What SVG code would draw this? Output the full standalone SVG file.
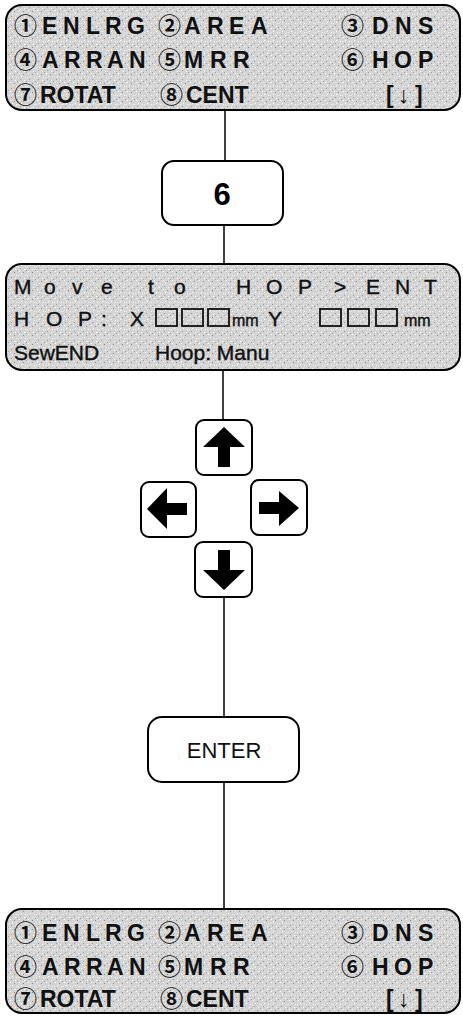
<svg xmlns="http://www.w3.org/2000/svg" width="463" height="1016" viewBox="0 0 463 1016">
<defs>
<pattern id="grain" width="9" height="9" patternUnits="userSpaceOnUse">
<rect width="9" height="9" fill="#d4d4d4"/>
<rect x="1" y="1" width="1" height="1" fill="#ffffff"/>
<rect x="5" y="2" width="1" height="1" fill="#8a8a8a"/>
<rect x="3" y="4" width="1" height="1" fill="#ffffff"/>
<rect x="7" y="5" width="1" height="1" fill="#f4f4f4"/>
<rect x="2" y="7" width="1" height="1" fill="#9a9a9a"/>
<rect x="6" y="8" width="1" height="1" fill="#ffffff"/>
<rect x="8" y="0" width="1" height="1" fill="#a5a5a5"/>
<rect x="0" y="5" width="1" height="1" fill="#ededed"/>
</pattern>
<style>
.lcd{fill:url(#grain);stroke:#000;stroke-width:2}
.key{fill:#fff;stroke:#000;stroke-width:2}
.conn{stroke:#000;stroke-width:1.5;fill:none}
.t{font-family:"Liberation Sans","Noto Sans CJK JP",sans-serif;font-weight:bold;font-size:23px;fill:#111}
.c{font-family:"Noto Sans CJK JP","DejaVu Sans",sans-serif;font-weight:bold;font-size:23px;fill:#111}
.m{font-family:"Liberation Sans","Noto Sans CJK JP",sans-serif;font-weight:normal;font-size:21px;fill:#111;stroke:#111;stroke-width:0.4}
.sq{fill:none;stroke:#111;stroke-width:1.8}
.arw{fill:#000}
</style>
</defs>

<g id="connectors">
<line class="conn" x1="225" y1="110" x2="225" y2="161"/>
<line class="conn" x1="224" y1="225" x2="224" y2="264"/>
<line class="conn" x1="223" y1="370" x2="223" y2="420"/>
<line class="conn" x1="224" y1="597" x2="224" y2="717"/>
<line class="conn" x1="224" y1="782" x2="224" y2="909"/>
</g>

<g id="menu-top">
<rect class="lcd" x="6" y="5" width="454" height="105" rx="16"/>
<text class="c" x="14" y="34">①</text>
<text class="t" x="42 63 86 105 127" y="34">ENLRG</text>
<text class="c" x="158" y="34">②</text>
<text class="t" x="184 207 229 251" y="34">AREA</text>
<text class="c" x="341" y="34">③</text>
<text class="t" x="372 395 418" y="34">DNS</text>
<text class="c" x="14" y="68">④</text>
<text class="t" x="42 64 86 107 129" y="68">ARRAN</text>
<text class="c" x="158" y="68">⑤</text>
<text class="t" x="184 210 233" y="68">MRR</text>
<text class="c" x="341" y="68">⑥</text>
<text class="t" x="372 394 418" y="68">HOP</text>
<text class="c" x="14" y="103">⑦</text>
<text class="t" x="40" y="103">ROTAT</text>
<text class="c" x="160" y="103">⑧</text>
<text class="t" x="186" y="103">CENT</text>
<text class="t" x="386 398 415" y="103">[↓]</text>
</g>

<g id="key-6">
<rect class="key" x="162" y="161" width="121" height="64" rx="12"/>
<text x="222" y="205" text-anchor="middle" style="font-family:'Liberation Sans',sans-serif;font-weight:bold;font-size:31px">6</text>
</g>

<g id="lcd-move">
<rect class="lcd" x="6" y="264" width="454" height="106" rx="16"/>
<text class="m" x="14 44 72 101 148 174 236 266 298 334 366 395 424" y="294">MovetoHOP&gt;ENT</text>
<text class="m" x="14 46 78 101 130" y="326">HOP:X</text>
<rect class="sq" x="156" y="309" width="21" height="17"/>
<rect class="sq" x="182" y="309" width="21" height="17"/>
<rect class="sq" x="208" y="309" width="21" height="17"/>
<text class="m" x="232" y="326" style="font-size:16px">mm</text>
<text class="m" x="268" y="326">Y</text>
<rect class="sq" x="320" y="309" width="21" height="17"/>
<rect class="sq" x="348" y="309" width="21" height="17"/>
<rect class="sq" x="376" y="309" width="21" height="17"/>
<text class="m" x="404" y="326" style="font-size:16px">mm</text>
<text class="m" x="14" y="360">SewEND</text>
<text class="m" x="155" y="360">Hoop: Manu</text>
</g>

<g id="key-up">
<rect class="key" x="196" y="420" width="56" height="55" rx="8"/>
<path class="arw" d="M224 427 L245 447 L230 447 L230 467 L218 467 L218 447 L203 447 Z"/>
</g>
<g id="key-left">
<rect class="key" x="141" y="482" width="55" height="55" rx="8"/>
<path class="arw" d="M147 509 L167 488 L167 503 L187 503 L187 515 L167 515 L167 529 Z"/>
</g>
<g id="key-right">
<rect class="key" x="251" y="480" width="56" height="55" rx="8"/>
<path class="arw" d="M299 508 L279 491 L279 502 L259 502 L259 514 L279 514 L279 526 Z"/>
</g>
<g id="key-down">
<rect class="key" x="195" y="542" width="57" height="55" rx="8"/>
<path class="arw" d="M224 590 L245 570 L230 570 L230 550 L218 550 L218 570 L203 570 Z"/>
</g>

<g id="key-enter">
<rect class="key" x="148" y="717" width="151" height="65" rx="14"/>
<text x="224" y="758" text-anchor="middle" style="font-family:'Liberation Sans',sans-serif;font-size:22px;fill:#111">ENTER</text>
</g>

<g id="menu-bottom">
<rect class="lcd" x="6" y="909" width="454" height="104" rx="16"/>
<text class="c" x="14" y="941">①</text>
<text class="t" x="42 63 86 105 127" y="941">ENLRG</text>
<text class="c" x="158" y="941">②</text>
<text class="t" x="184 207 229 251" y="941">AREA</text>
<text class="c" x="341" y="941">③</text>
<text class="t" x="372 395 418" y="941">DNS</text>
<text class="c" x="14" y="975">④</text>
<text class="t" x="42 64 86 107 129" y="975">ARRAN</text>
<text class="c" x="158" y="975">⑤</text>
<text class="t" x="184 210 233" y="975">MRR</text>
<text class="c" x="341" y="975">⑥</text>
<text class="t" x="372 394 418" y="975">HOP</text>
<text class="c" x="14" y="1007">⑦</text>
<text class="t" x="40" y="1007">ROTAT</text>
<text class="c" x="160" y="1007">⑧</text>
<text class="t" x="186" y="1007">CENT</text>
<text class="t" x="386 398 415" y="1007">[↓]</text>
</g>
</svg>
